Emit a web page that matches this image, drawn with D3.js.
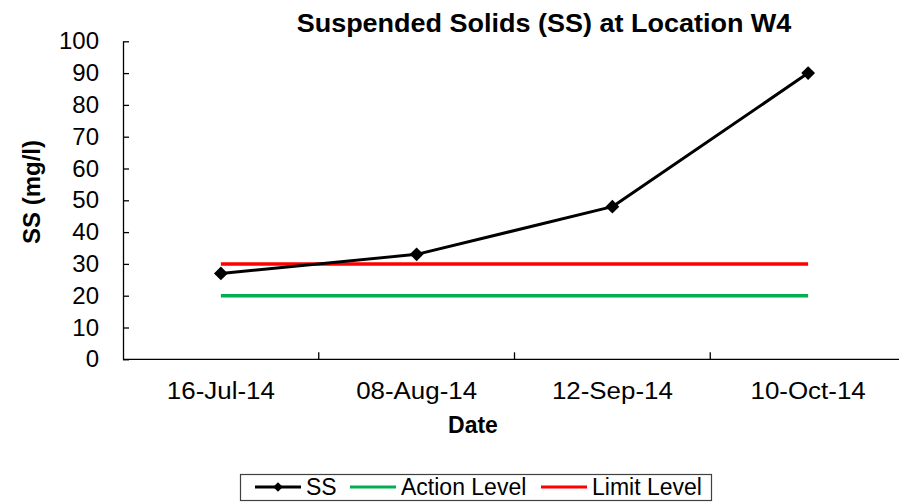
<!DOCTYPE html>
<html lang="en">
  <head>
    <meta charset="utf-8">
    <title>Suspended Solids (SS) at Location W4</title>
    <script src="https://cdn.jsdelivr.net/npm/d3@7"></script>
    <style>
      body { margin: 0; background: #fff; }
      text { font-family: "Liberation Sans", Arial, Helvetica, sans-serif; fill: #000; }
    </style>
  </head>
  <body>
    <script>

      /* data */
      const dates = ["16-Jul-14", "08-Aug-14", "12-Sep-14", "10-Oct-14"];
      const ss_values = [27, 33, 48, 90];
      const action_level = [20, 20, 20, 20];
      const limit_level = [30, 30, 30, 30];
      const y_ticks = [0, 10, 20, 30, 40, 50, 60, 70, 80, 90, 100];

      /* layout */
      const SVG_W = 899;
      const SVG_H = 502;
      const PLOT_LEFT = 123;
      const PLOT_RIGHT = 906;
      const PLOT_TOP = 41.3;
      const PLOT_BOTTOM = 359.3;
      const TEXT_STRETCH = 1.08; // the original text is a bit wider than Arial

      const COLOR_SS = "#000000";
      const COLOR_ACTION = "#00B050";
      const COLOR_LIMIT = "#FF0000";

      let svg = d3.select("body").append("svg")
        .attr("width", SVG_W)
        .attr("height", SVG_H);

      let x = d3.scaleBand().domain(dates).range([PLOT_LEFT, PLOT_RIGHT]).padding(0);
      let y = d3.scaleLinear().domain([0, 100]).range([PLOT_BOTTOM, PLOT_TOP]);
      let cx = d => x(d) + x.bandwidth() / 2;

      /* y axis */
      let g_y = svg.append("g")
        .attr("transform", "translate(" + PLOT_LEFT + ",0)")
        .call(d3.axisLeft(y).tickValues(y_ticks).tickSizeInner(-6).tickSizeOuter(0).tickPadding(24));
      g_y.select(".domain").attr("stroke", "#000").attr("stroke-width", 1.3);
      g_y.selectAll(".tick line").attr("stroke", "#000").attr("stroke-width", 1.3);
      g_y.selectAll(".tick text").attr("font-size", 24).attr("font-family", null);

      /* x axis */
      let g_x = svg.append("g")
        .attr("transform", "translate(0," + PLOT_BOTTOM + ")")
        .call(d3.axisBottom(x).tickSize(0).tickPadding(23));
      g_x.select(".domain").remove();
      g_x.selectAll(".tick text")
        .attr("font-size", 24)
        .attr("font-family", null)
        .attr("transform", "scale(" + TEXT_STRETCH + ",1)");
      g_x.append("line")
        .attr("x1", PLOT_LEFT).attr("x2", SVG_W)
        .attr("stroke", "#000").attr("stroke-width", 1.3);
      g_x.selectAll(".bound")
        .data(dates.slice(1))
        .enter().append("line")
        .attr("class", "bound")
        .attr("x1", d => x(d)).attr("x2", d => x(d))
        .attr("y1", 0).attr("y2", -7)
        .attr("stroke", "#000").attr("stroke-width", 1.3);

      /* series */
      function add_series(values, color, width) {
        let pts = dates.map((d, i) => [cx(d), y(values[i])]);
        return svg.append("path")
          .attr("d", d3.line()(pts))
          .attr("fill", "none")
          .attr("stroke", color)
          .attr("stroke-width", width)
          .attr("stroke-linejoin", "round");
      }

      add_series(action_level, COLOR_ACTION, 3.5);
      add_series(limit_level, COLOR_LIMIT, 3.5);
      add_series(ss_values, COLOR_SS, 3);

      let diamond = d3.symbol(d3.symbolSquare, 95);
      svg.selectAll(".marker")
        .data(ss_values)
        .enter().append("path")
        .attr("class", "marker")
        .attr("d", diamond)
        .attr("transform", (d, i) => "translate(" + cx(dates[i]) + "," + y(d) + ") rotate(45)")
        .attr("fill", COLOR_SS);

      /* titles */
      svg.append("text")
        .attr("transform", "translate(544,32) scale(" + TEXT_STRETCH + ",1)")
        .attr("text-anchor", "middle")
        .attr("font-size", 25)
        .attr("font-weight", "bold")
        .text("Suspended Solids (SS) at Location W4");

      svg.append("text")
        .attr("transform", "translate(40,192) rotate(-90)")
        .attr("text-anchor", "middle")
        .attr("font-size", 24)
        .attr("font-weight", "bold")
        .text("SS (mg/l)");

      svg.append("text")
        .attr("x", 473).attr("y", 433)
        .attr("text-anchor", "middle")
        .attr("font-size", 23)
        .attr("font-weight", "bold")
        .text("Date");

      /* legend */
      const legend_items = [
        {name: "SS", color: COLOR_SS, marker: true, x0: 255, tx: 306},
        {name: "Action Level", color: COLOR_ACTION, marker: false, x0: 350, tx: 401},
        {name: "Limit Level", color: COLOR_LIMIT, marker: false, x0: 541, tx: 592}
      ];
      const LEG_Y = 487;

      let g_legend = svg.append("g");
      g_legend.append("rect")
        .attr("x", 240.5).attr("y", 474.5)
        .attr("width", 471).attr("height", 26)
        .attr("fill", "#fff")
        .attr("stroke", "#404040")
        .attr("stroke-width", 1.2);

      legend_items.forEach(function(it) {
        g_legend.append("line")
          .attr("x1", it.x0).attr("x2", it.x0 + 46)
          .attr("y1", LEG_Y).attr("y2", LEG_Y)
          .attr("stroke", it.color)
          .attr("stroke-width", 3);
        if (it.marker) {
          g_legend.append("path")
            .attr("d", d3.symbol(d3.symbolSquare, 45))
            .attr("transform", "translate(" + (it.x0 + 23) + "," + LEG_Y + ") rotate(45)")
            .attr("fill", it.color);
        }
        g_legend.append("text")
          .attr("x", it.tx).attr("y", LEG_Y + 8)
          .attr("font-size", 23)
          .text(it.name);
      });

    </script>
  </body>
</html>
